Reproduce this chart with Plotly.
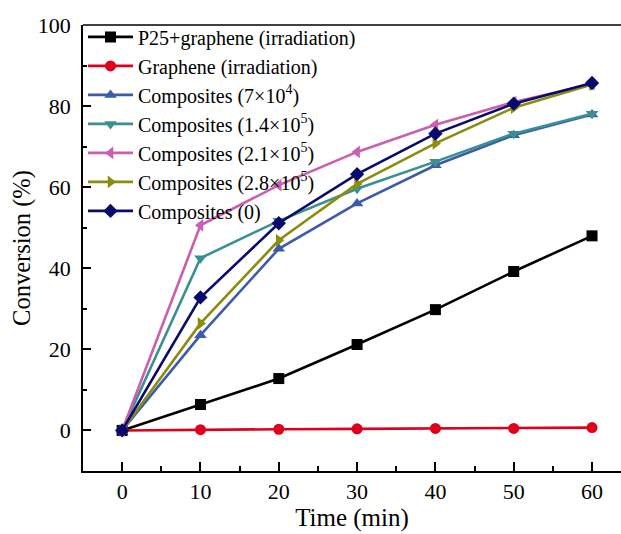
import plotly.graph_objects as go

time = [0, 10, 20, 30, 40, 50, 60]

names = [
    "P25+graphene (irradiation)",
    "Graphene (irradiation)",
    "Composites (7×10<sup>4</sup>)",
    "Composites (1.4×10<sup>5</sup>)",
    "Composites (2.1×10<sup>5</sup>)",
    "Composites (2.8×10<sup>5</sup>)",
    "Composites (0)",
]

p25_graphene = [0, 6.4, 12.8, 21.2, 29.8, 39.2, 48.0]
graphene = [0, 0.2, 0.3, 0.4, 0.5, 0.5, 0.7]
comp_7e4 = [0, 23.5, 44.8, 56.0, 65.4, 72.8, 77.9]
comp_1_4e5 = [0, 42.5, 51.7, 59.6, 66.3, 73.2, 78.1]
comp_2_1e5 = [0, 50.6, 60.5, 68.7, 75.4, 81.0, 85.4]
comp_2_8e5 = [0, 26.4, 46.9, 60.8, 70.8, 79.6, 85.3]
comp_0 = [0, 32.8, 51.1, 63.2, 73.2, 80.6, 85.7]

series = [p25_graphene, graphene, comp_7e4, comp_1_4e5, comp_2_1e5, comp_2_8e5, comp_0]
colors = ["#000000", "#e0001b", "#3b5bab", "#3a9090", "#c95fae", "#8c8c10", "#0a0a6e"]
symbols = ["square", "circle", "triangle-up", "triangle-down", "triangle-left", "triangle-right", "diamond"]

FONT = "Liberation Serif"

fig = go.Figure()
for n, ys, c, s in zip(names, series, colors, symbols):
    fig.add_trace(go.Scatter(
        x=time, y=ys, name=n, mode="lines+markers",
        line=dict(color=c, width=2.6),
        marker=dict(color=c, symbol=s, size=11),
    ))

fig.update_layout(
    width=621, height=534,
    margin=dict(l=83, r=0, t=25, b=63),
    paper_bgcolor="white", plot_bgcolor="white",
    font=dict(family=FONT, color="black", size=21),
    showlegend=True,
    legend=dict(x=0.0, y=1.017, xanchor="left", yanchor="top",
                bgcolor="rgba(0,0,0,0)", font=dict(family=FONT, size=20, color="black"),
                tracegroupgap=0, itemwidth=45),
    xaxis=dict(
        range=[-5, 63.7], tickvals=[0, 10, 20, 30, 40, 50, 60],
        showgrid=False, zeroline=False, showline=True, linecolor="black", linewidth=1.5,
        ticks="inside", ticklen=9, tickwidth=1.5, tickcolor="black",
        tickfont=dict(family=FONT, size=22), ticklabelstandoff=0,
        minor=dict(tickvals=[5, 15, 25, 35, 45, 55], ticks="inside", ticklen=5,
                   tickwidth=1.5, tickcolor="black", showgrid=False),
        title=dict(text="Time (min)", font=dict(family=FONT, size=25), standoff=1),
        automargin=False,
    ),
    yaxis=dict(
        range=[-10, 100], tickvals=[0, 20, 40, 60, 80, 100],
        showgrid=False, zeroline=False, showline=True, linecolor="black", linewidth=1.5,
        ticks="inside", ticklen=8, tickwidth=1.5, tickcolor="black",
        tickfont=dict(family=FONT, size=22), ticklabelstandoff=6,
        minor=dict(tickvals=[10, 30, 50, 70, 90], ticks="inside", ticklen=4,
                   tickwidth=1.5, tickcolor="black", showgrid=False),
        title=dict(text="Conversion (%)", font=dict(family=FONT, size=24.5), standoff=0),
        automargin=False,
    ),
    shapes=[dict(type="line", xref="paper", yref="paper", x0=0, x1=1, y0=1, y1=1,
                 line=dict(color="black", width=1.5))],
)

fig.write_html("out.html")
